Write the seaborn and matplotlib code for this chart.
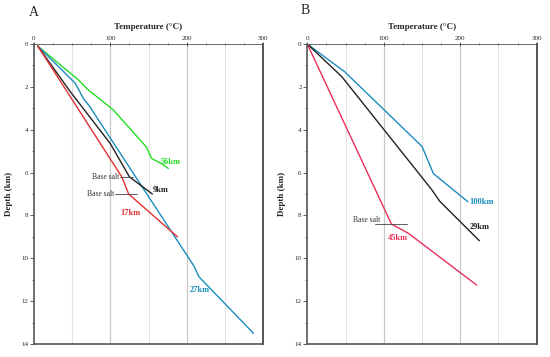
import seaborn as sns
import matplotlib.pyplot as plt
import pandas as pd

# ---- data ----
# panel A  (temperature degC, depth km)
a56_t = [5, 58, 71, 104, 147, 154, 167, 176]
a56_d = [0.1, 1.67, 2.14, 3.08, 4.8, 5.34, 5.58, 5.81]
a27_t = [5, 54, 64.5, 73, 210, 216, 287.5]
a27_d = [0.1, 1.83, 2.53, 2.92, 10.39, 10.86, 13.5]
a9_t = [5, 47, 100, 125, 155]
a9_d = [0.1, 2.2, 4.65, 6.2, 7.0]
a17_t = [5, 115, 124, 188]
a17_d = [0.1, 6.2, 7.0, 9.0]

# panel B
b100_t = [0, 49, 150, 165, 210]
b100_d = [0, 1.3, 4.78, 6.05, 7.36]
b29_t = [0, 45, 163, 173, 225]
b29_d = [0, 1.52, 6.81, 7.33, 9.18]
b45_t = [0, 110, 132, 221.5]
b45_d = [0, 8.4, 8.83, 11.25]

GREEN = "#22dd22"
BLUE = "#1b8cbd"
BLACK = "#222222"
RED_A = "#e23232"
RED_B = "#e8305a"

sns.set_style("white")
plt.rcParams['font.family'] = ['Liberation Serif', 'DejaVu Serif']

fig = plt.figure(figsize=(5.5, 3.57), dpi=100)
axA = fig.add_axes([0.0618, 0.0364, 0.4164, 0.8404])
axB = fig.add_axes([0.5587, 0.0364, 0.4171, 0.8404])


def curve(ax, t, d, color, lw=1.0):
    df = pd.DataFrame({"T": t, "D": d})
    sns.lineplot(data=df, x="T", y="D", ax=ax, color=color, lw=lw,
                 sort=False, estimator=None)


def style(ax):
    ax.set_xlim(0, 300)
    ax.set_ylim(14, 0)
    for x in [50, 150, 250]:
        ax.axvline(x, color="#e2e2e2", lw=0.8, zorder=0)
    for x in [100, 200]:
        ax.axvline(x, color="#c8c8c8", lw=0.9, zorder=0)
    ax.xaxis.tick_top()
    ax.xaxis.set_label_position("top")
    ax.set_xticks([0, 100, 200, 300])
    ax.set_xticks(range(0, 301, 25), minor=True)
    ax.set_yticks(range(0, 15, 2))
    ax.set_yticks(range(0, 15, 1), minor=True)
    ax.tick_params(axis="x", which="major", direction="inout", length=3,
                   width=0.6, labelsize=5, pad=1, color="#444444")
    ax.tick_params(axis="x", which="minor", direction="inout", length=2,
                   width=0.5, color="#444444")
    ax.tick_params(axis="y", which="major", direction="out", length=3,
                   width=0.6, labelsize=5, pad=1, left=True, color="#444444")
    ax.tick_params(axis="y", which="minor", direction="out", length=1.5,
                   width=0.5, left=True, color="#444444")
    for s in ["left", "bottom"]:
        ax.spines[s].set_color("#555555")
        ax.spines[s].set_linewidth(1.2)
    ax.spines["right"].set_color("#555555")
    ax.spines["right"].set_linewidth(1.4)
    ax.spines["top"].set_color("#555555")
    ax.spines["top"].set_linewidth(0.6)
    ax.set_xlabel("Temperature (\u00b0C)", fontsize=6.5, fontweight="bold",
                  labelpad=5)
    ax.set_ylabel("Depth (km)", fontsize=6.5, fontweight="bold", labelpad=6)


# ---- panel A ----
curve(axA, a56_t, a56_d, GREEN)
curve(axA, a27_t, a27_d, BLUE)
curve(axA, a9_t, a9_d, BLACK)
curve(axA, a17_t, a17_d, RED_A)
style(axA)

axA.plot([113, 130], [6.2, 6.2], color="#444444", lw=0.6)
axA.plot([106, 135], [7.0, 7.0], color="#444444", lw=0.6)
axA.text(112, 6.2, "Base salt", fontsize=5.5, ha="right", va="center",
         color="#333333")
axA.text(105, 7.0, "Base salt", fontsize=5.5, ha="right", va="center",
         color="#333333")
axA.text(166, 5.5, "56km", fontsize=6, fontweight="bold", color=GREEN,
         ha="left", va="center")
axA.text(155.5, 6.8, "9km", fontsize=6, fontweight="bold", color=BLACK,
         ha="left", va="center")
axA.text(127, 7.87, "17km", fontsize=6, fontweight="bold", color=RED_A,
         ha="center", va="center")
axA.text(217, 11.5, "27km", fontsize=6, fontweight="bold", color=BLUE,
         ha="center", va="center")

# ---- panel B ----
curve(axB, b100_t, b100_d, BLUE)
curve(axB, b29_t, b29_d, BLACK)
curve(axB, b45_t, b45_d, RED_B)
style(axB)

axB.plot([88.5, 131], [8.4, 8.4], color="#444444", lw=0.6)
axB.text(95, 8.38, "Base salt", fontsize=5.5, ha="right", va="bottom",
         color="#333333")
axB.text(228, 7.37, "100km", fontsize=6, fontweight="bold", color=BLUE,
         ha="center", va="center")
axB.text(226, 8.56, "29km", fontsize=6, fontweight="bold", color=BLACK,
         ha="center", va="center")
axB.text(119, 9.07, "45km", fontsize=6, fontweight="bold", color=RED_B,
         ha="center", va="center")

fig.text(29 / 550, 1 - 12.5 / 357, "A", fontsize=10, ha="left", va="center")
fig.text(301 / 550, 1 - 10 / 357, "B", fontsize=10, ha="left", va="center")

fig.savefig("out.png", dpi=100)
